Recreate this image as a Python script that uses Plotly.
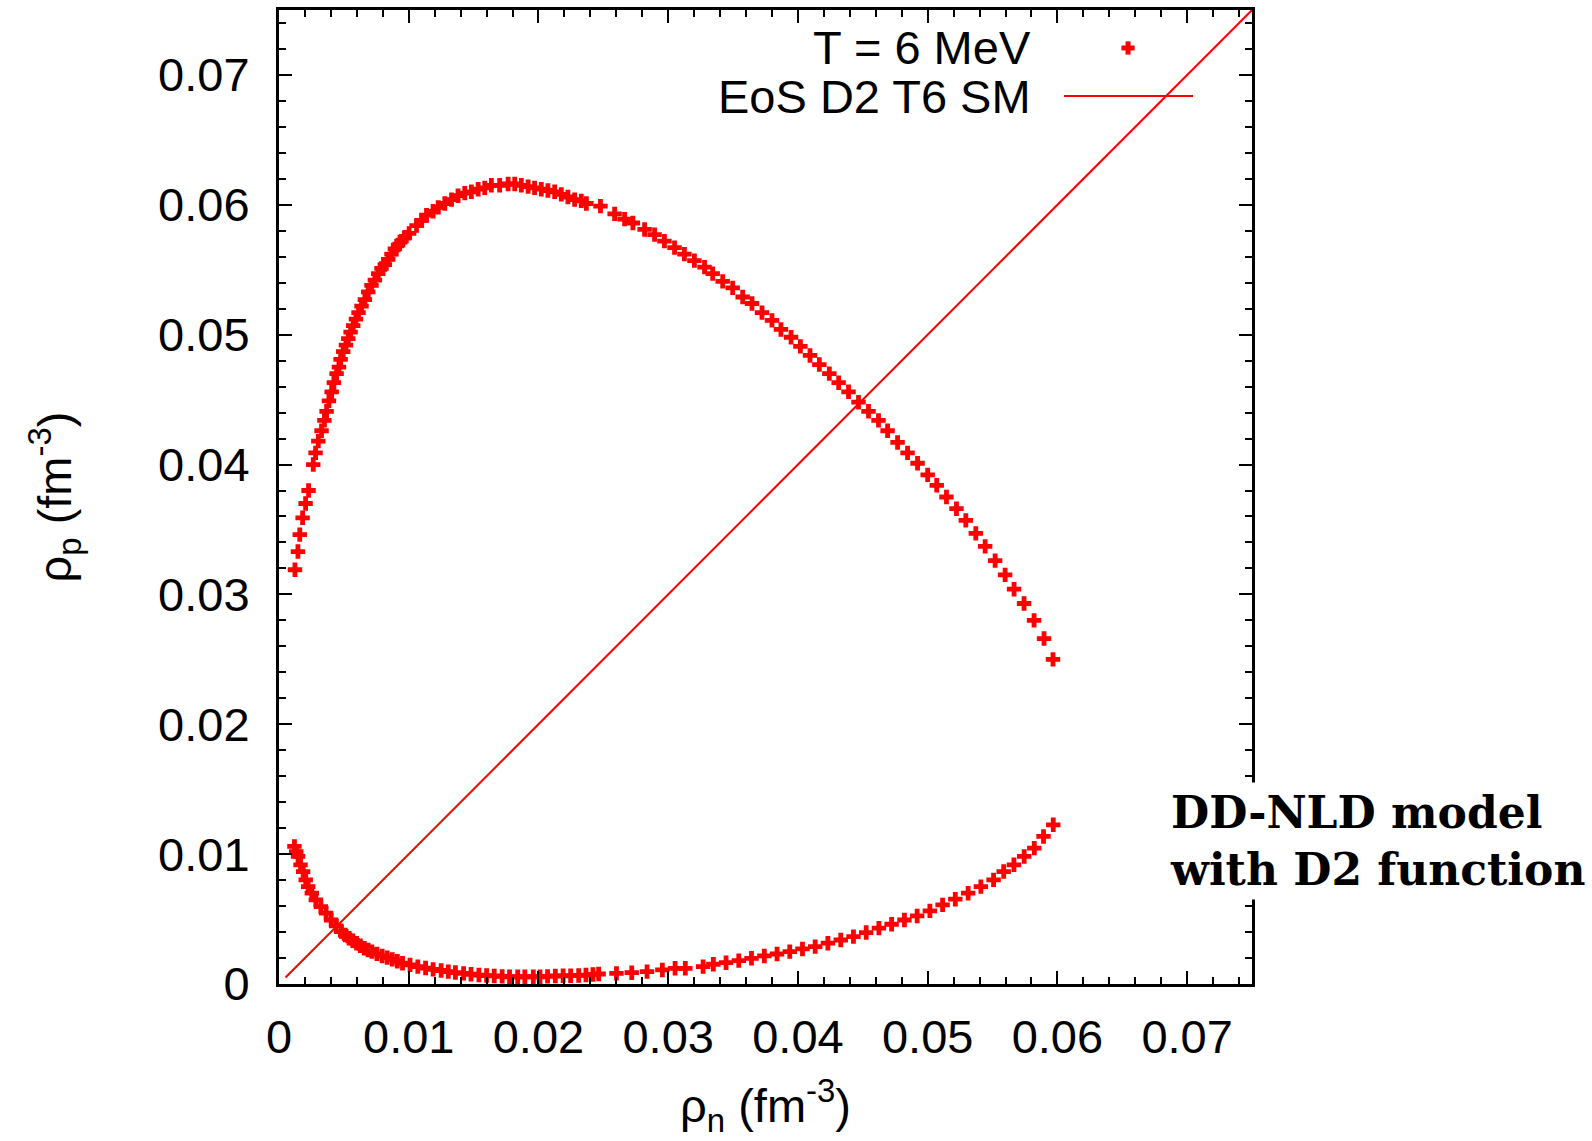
import plotly.graph_objects as go

# ---------------- data ----------------
upper_x = [0.00123, 0.00146, 0.0016, 0.00182, 0.00205, 0.00228, 0.00264, 0.00282, 0.00303, 0.00328,
           0.0035, 0.00367, 0.00385, 0.00406, 0.00423, 0.00444, 0.00462, 0.00475, 0.00495, 0.00516,
           0.00534, 0.00552, 0.00572, 0.00593, 0.00613, 0.00636, 0.00662, 0.00688, 0.00713, 0.00739,
           0.00765, 0.0079, 0.00816, 0.00842, 0.00867, 0.00893, 0.00918, 0.00944, 0.0097, 0.01003,
           0.0106, 0.011, 0.01137, 0.01188, 0.01227, 0.01278, 0.0133, 0.0138, 0.01432, 0.01483,
           0.01535, 0.01586, 0.01637, 0.01701, 0.01766, 0.01817, 0.01868, 0.0192, 0.0197, 0.02022,
           0.02073, 0.02125, 0.02176, 0.02227, 0.02279, 0.0233, 0.02369, 0.02478,
           0.02587, 0.02664, 0.02728, 0.02818, 0.02895, 0.02971, 0.03049, 0.03125, 0.03202, 0.0328,
           0.03343, 0.0342, 0.03497, 0.03574, 0.03646, 0.03723, 0.038, 0.03869, 0.03947, 0.04019,
           0.04093, 0.04165, 0.04242, 0.04314, 0.0439, 0.04467, 0.04544, 0.04621, 0.04691, 0.04768,
           0.04845, 0.04922, 0.05, 0.0507, 0.05145, 0.05222, 0.05294, 0.05371, 0.05443, 0.0552,
           0.05597, 0.05666, 0.05743, 0.0582, 0.05897, 0.05966]
upper_y = [0.0319, 0.0333, 0.0346, 0.0359, 0.0370, 0.0380, 0.0400, 0.0409, 0.0418, 0.0426,
           0.0434, 0.0441, 0.0449, 0.0456, 0.0463, 0.0470, 0.0475, 0.0481, 0.0487, 0.0492,
           0.0497, 0.0502, 0.0507, 0.0512, 0.0517, 0.0522, 0.0527, 0.0533, 0.0538, 0.0542,
           0.0547, 0.0551, 0.0554, 0.0558, 0.0562, 0.0566, 0.0569, 0.0572, 0.0575, 0.0578,
           0.0584, 0.0588, 0.0592, 0.0595, 0.0598, 0.0601, 0.0604, 0.0607, 0.0609, 0.0610,
           0.0612, 0.0613, 0.0615, 0.0615, 0.0616, 0.0616, 0.0615, 0.0614, 0.0613, 0.0612,
           0.0611, 0.0610, 0.0608, 0.0606, 0.0604, 0.0603, 0.0601, 0.0599,
           0.0593, 0.0589, 0.0586, 0.0581, 0.0577, 0.0572, 0.0567, 0.0562, 0.0557, 0.0552,
           0.0547, 0.0541, 0.0536, 0.0529, 0.0524, 0.0517, 0.0511, 0.0504, 0.0498, 0.0491,
           0.0484, 0.0477, 0.0470, 0.0463, 0.0456, 0.0448, 0.0441, 0.0434, 0.0426, 0.0417,
           0.0409, 0.0401, 0.0392, 0.0384, 0.0375, 0.0366, 0.0357, 0.0347, 0.0337, 0.0326,
           0.0315, 0.0304, 0.0293, 0.0280, 0.0266, 0.0250]

lower_x = [0.00119, 0.00133, 0.00147, 0.00166, 0.00186, 0.00206, 0.00225, 0.00253, 0.00284, 0.00323,
           0.00363, 0.00402, 0.00441, 0.00481, 0.0051, 0.0054, 0.00569, 0.00598, 0.00627, 0.00657,
           0.00686, 0.00716, 0.00755, 0.00795, 0.00834, 0.00873, 0.00912, 0.00952, 0.0101, 0.0107,
           0.0113, 0.01188, 0.0125, 0.01305, 0.0136, 0.01423, 0.0148, 0.01541, 0.016, 0.01659,
           0.0172, 0.01777, 0.0184, 0.01895, 0.0196, 0.02012, 0.0207, 0.0213, 0.0219, 0.02248,
           0.0231, 0.02366, 0.0242, 0.02464, 0.02601, 0.02719, 0.02837, 0.02955, 0.03053, 0.03132,
           0.03269, 0.03348, 0.03446, 0.03544, 0.03642, 0.03741, 0.03839, 0.03937, 0.04035, 0.04133,
           0.04231, 0.0433, 0.04428, 0.04526, 0.04624, 0.04722, 0.04821, 0.04919, 0.05017, 0.05115,
           0.05213, 0.05312, 0.0541, 0.05508, 0.05586, 0.05665, 0.05744, 0.05822, 0.05893, 0.05968]
lower_y = [0.01059, 0.0102, 0.00982, 0.00918, 0.00866, 0.00802, 0.0075, 0.00699, 0.00648, 0.00596,
           0.00545, 0.00493, 0.00447, 0.00403, 0.00377, 0.00352, 0.00333, 0.00314, 0.00294, 0.00275,
           0.00262, 0.00249, 0.00232, 0.00216, 0.00203, 0.0019, 0.00175, 0.0016, 0.00147, 0.00134,
           0.00123, 0.00113, 0.00104, 0.00095, 0.00088, 0.00082, 0.00075, 0.00069, 0.00065, 0.00062,
           0.00059, 0.00056, 0.00056, 0.00056, 0.00056, 0.00056, 0.00059, 0.00062, 0.00063, 0.00064,
           0.00066, 0.00069, 0.00073, 0.00077, 0.00082, 0.00087, 0.00095, 0.00108, 0.00121, 0.00121,
           0.00134, 0.00152, 0.00164, 0.0018, 0.00198, 0.00216, 0.00231, 0.00249, 0.0027, 0.00288,
           0.00314, 0.00339, 0.00365, 0.00396, 0.0043, 0.0046, 0.00493, 0.00524, 0.00563, 0.00609,
           0.00653, 0.00699, 0.0075, 0.00802, 0.00866, 0.00918, 0.00982, 0.01046, 0.01136, 0.01226]

eos_x = [0.0005, 0.075]
eos_y = [0.0005, 0.075]

series_names = ["T = 6 MeV", "EoS D2 T6 SM"]
annotation_lines = ["DD-NLD model", "with D2 function"]
tick_vals = [0, 0.01, 0.02, 0.03, 0.04, 0.05, 0.06, 0.07]
tick_text = ["0", "0.01", "0.02", "0.03", "0.04", "0.05", "0.06", "0.07"]

RED = "#ff0000"
FONT = "Liberation Sans, Arial, sans-serif"
FS = 47

fig = go.Figure()
fig.add_trace(go.Scatter(x=lower_x + [None] + upper_x, y=lower_y + [None] + upper_y,
                         mode="markers", name=series_names[0], showlegend=False,
                         marker=dict(symbol="cross", size=12, color=RED, line=dict(width=0))))
fig.add_trace(go.Scatter(x=eos_x, y=eos_y, mode="lines", name=series_names[1], showlegend=False,
                         line=dict(color=RED, width=2)))

axis_common = dict(
    range=[0, 0.075], tickvals=tick_vals, ticktext=tick_text,
    ticks="inside", ticklen=13, tickwidth=2, tickcolor="black",
    showline=True, linecolor="black", linewidth=3, mirror="allticks",
    showgrid=False, zeroline=False,
    tickfont=dict(family=FONT, size=FS, color="black"),
    minor=dict(dtick=0.002, ticks="inside", ticklen=7, tickwidth=2, tickcolor="black", showgrid=False),
)

fig.update_layout(
    width=1592, height=1141,
    margin=dict(l=279, r=340, t=10, b=157, autoexpand=False),
    paper_bgcolor="white", plot_bgcolor="white",
    showlegend=False,
    xaxis=dict(**axis_common, ticklabelstandoff=10,
               title=dict(text="ρ<sub>n</sub> (fm<sup>-3</sup>)", standoff=27,
                          font=dict(family=FONT, size=FS, color="black"))),
    yaxis=dict(**axis_common, ticklabelstandoff=17,
               title=dict(text="ρ<sub>p</sub> (fm<sup>-3</sup>)", standoff=72,
                          font=dict(family=FONT, size=FS, color="black"))),
)

# custom legend (gnuplot-style: text right, sample to its right)
leg_font = dict(family=FONT, size=FS, color="black")
fig.add_annotation(xref="paper", yref="paper", x=0.7749, y=0.961, text=series_names[0],
                   showarrow=False, xanchor="right", yanchor="middle", font=leg_font)
fig.add_annotation(xref="paper", yref="paper", x=0.7749, y=0.9117, text=series_names[1],
                   showarrow=False, xanchor="right", yanchor="middle", font=leg_font)
# legend samples
cx, cy = 0.8726, 0.961
fig.add_shape(type="line", xref="paper", yref="paper", x0=0.8068, x1=0.9394, y0=0.9117, y1=0.9117,
              line=dict(color=RED, width=2))
fig.add_shape(type="line", xref="paper", yref="paper", x0=cx - 0.0068, x1=cx + 0.0068, y0=cy, y1=cy,
              line=dict(color=RED, width=5))
fig.add_shape(type="line", xref="paper", yref="paper", x0=cx, x1=cx, y0=cy - 0.0068, y1=cy + 0.0068,
              line=dict(color=RED, width=5))

# model annotation (white box hides the frame behind it, as in the reference)
fig.add_annotation(xref="paper", yref="paper", x=0.9106, y=0.147,
                   text="<b>" + annotation_lines[0] + "</b><br><b>" + annotation_lines[1] + "</b>",
                   showarrow=False, xanchor="left", yanchor="middle", align="left",
                   bgcolor="white", borderpad=4,
                   font=dict(family="DejaVu Serif, serif", size=44, color="black"))

fig.write_html("out.html")
